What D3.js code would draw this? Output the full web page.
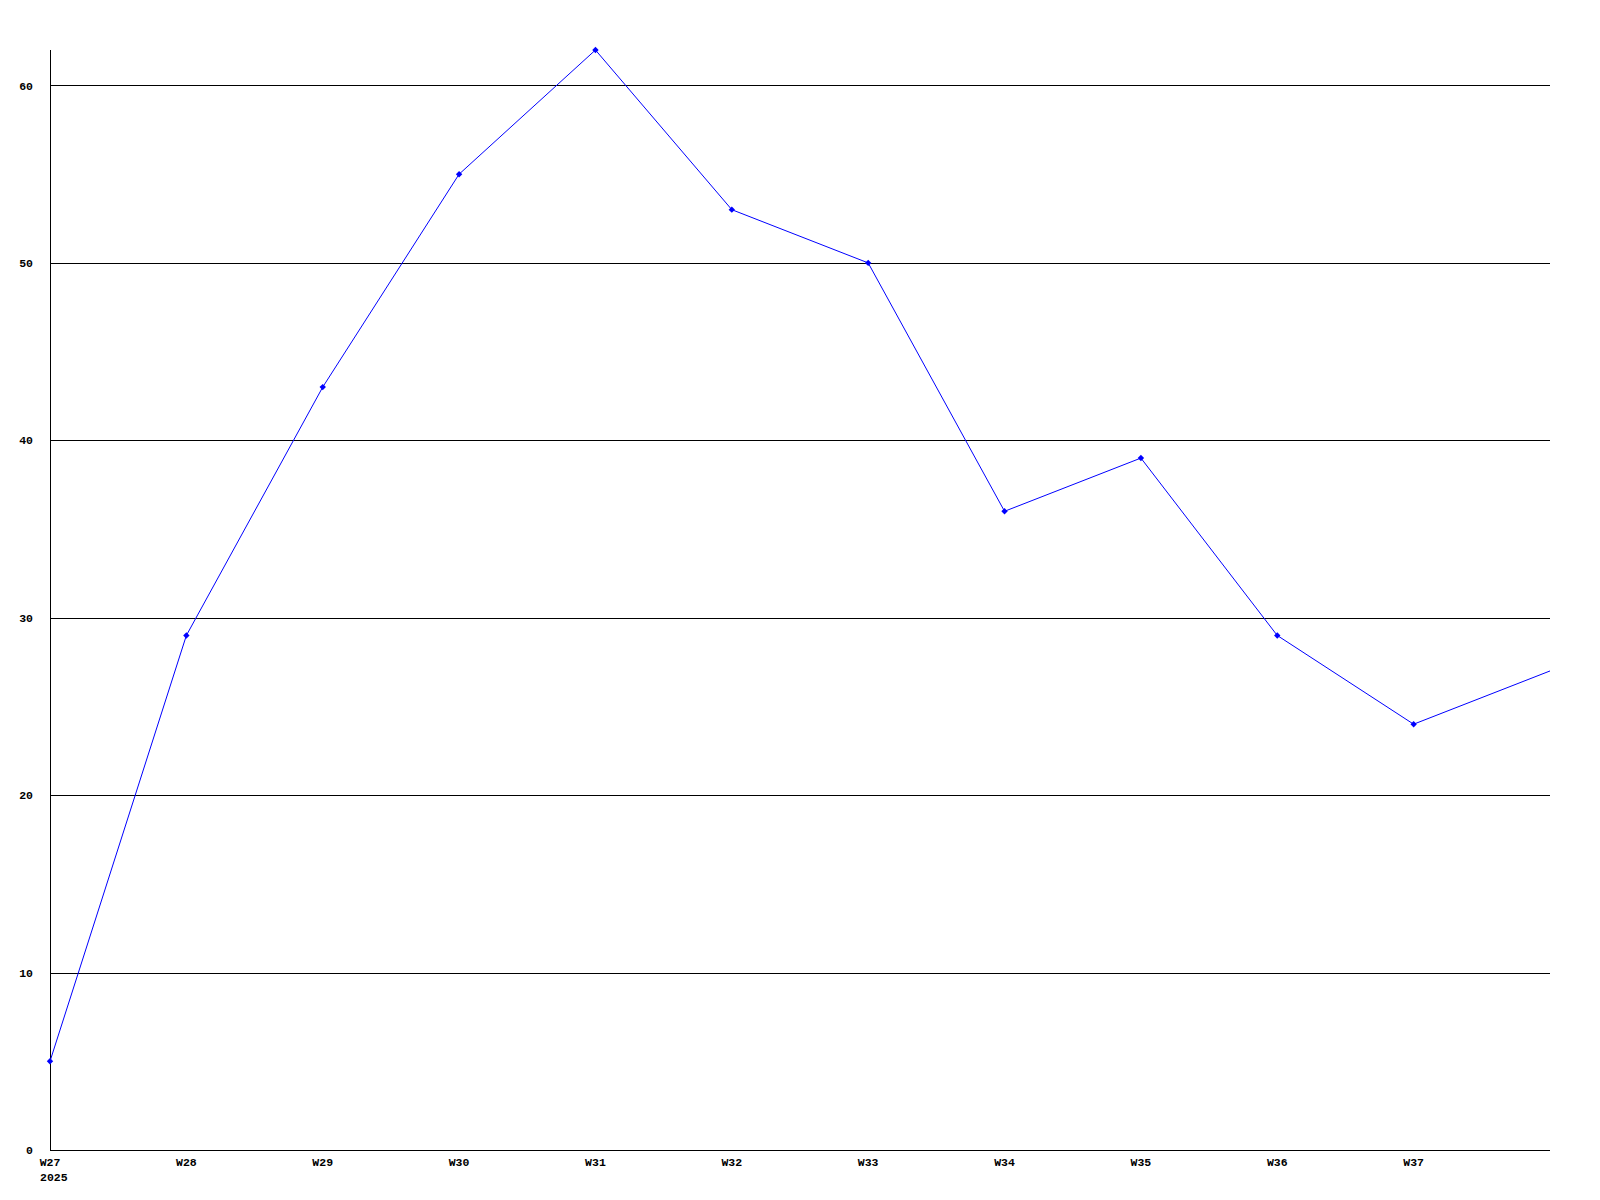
<!DOCTYPE html>
<html>
<head>
<meta charset="utf-8">
<script src="https://cdn.jsdelivr.net/npm/d3@7"></script>
<style>
  body { margin: 0; background: #fff; }
  text { font-family: "Liberation Mono", "DejaVu Sans Mono", monospace; font-weight: bold; font-size: 11.5px; fill: #000; }
</style>
</head>
<body>
<script>
// data
var weeks = ['W27', 'W28', 'W29', 'W30', 'W31', 'W32', 'W33', 'W34', 'W35', 'W36', 'W37', 'W38'];
var values = [5, 29, 43, 55, 62, 53, 50, 36, 39, 29, 24, 27];
var yTicks = [0, 10, 20, 30, 40, 50, 60];
var yearLabel = '2025';

var width = 1600;
var height = 1200;
var margin = { top: 50, right: 50, bottom: 50, left: 50 };

var svg = d3.select('body')
  .append('svg')
    .attr('width', width)
    .attr('height', height);

var x = d3.scalePoint()
    .domain(weeks)
    .range([margin.left, width - margin.right]);

var y = d3.scaleLinear()
    .domain([0, 62])
    .range([height - margin.bottom, margin.top]);

// gridlines
svg.selectAll('.grid')
  .data(yTicks.filter(function(d) { return d > 0; }))
  .enter()
  .append('line')
    .attr('x1', margin.left)
    .attr('x2', width - margin.right)
    .attr('y1', function(d) { return Math.round(y(d)) + 0.5; })
    .attr('y2', function(d) { return Math.round(y(d)) + 0.5; })
    .attr('stroke', '#000')
    .attr('stroke-width', 1);

// axes lines
svg.append('line')
  .attr('x1', margin.left + 0.5).attr('x2', margin.left + 0.5)
  .attr('y1', margin.top).attr('y2', height - margin.bottom)
  .attr('stroke', '#000');
svg.append('line')
  .attr('x1', margin.left).attr('x2', width - margin.right)
  .attr('y1', height - margin.bottom + 0.5).attr('y2', height - margin.bottom + 0.5)
  .attr('stroke', '#000');

// y labels
svg.selectAll('.ylab')
  .data(yTicks)
  .enter()
  .append('text')
    .attr('x', 33)
    .attr('y', function(d) { return y(d); })
    .attr('dy', '0.35em')
    .attr('text-anchor', 'end')
    .text(function(d) { return d; });

// x labels (last week sits on the edge, unlabeled)
svg.selectAll('.xlab')
  .data(weeks.slice(0, weeks.length - 1))
  .enter()
  .append('text')
    .attr('x', function(d) { return x(d); })
    .attr('y', height - margin.bottom + 12)
    .attr('dy', '0.35em')
    .attr('text-anchor', 'middle')
    .text(function(d) { return d; });

svg.append('text')
  .attr('x', x(weeks[0]) - 10)
  .attr('y', height - margin.bottom + 27)
  .attr('dy', '0.35em')
  .text(yearLabel);

// line
var line = d3.line()
  .x(function(d, i) { return x(weeks[i]); })
  .y(function(d) { return y(d); });

svg.append('path')
  .datum(values)
  .attr('fill', 'none')
  .attr('stroke', '#0000ff')
  .attr('stroke-width', 1)
  .attr('d', line);

// markers
svg.selectAll('.pt')
  .data(values.slice(0, values.length - 1))
  .enter()
  .append('path')
    .attr('transform', function(d, i) { return 'translate(' + x(weeks[i]) + ',' + y(d) + ')'; })
    .attr('d', d3.symbol().type(d3.symbolDiamond2).size(26))
    .attr('fill', '#0000ff');
</script>
</body>
</html>
